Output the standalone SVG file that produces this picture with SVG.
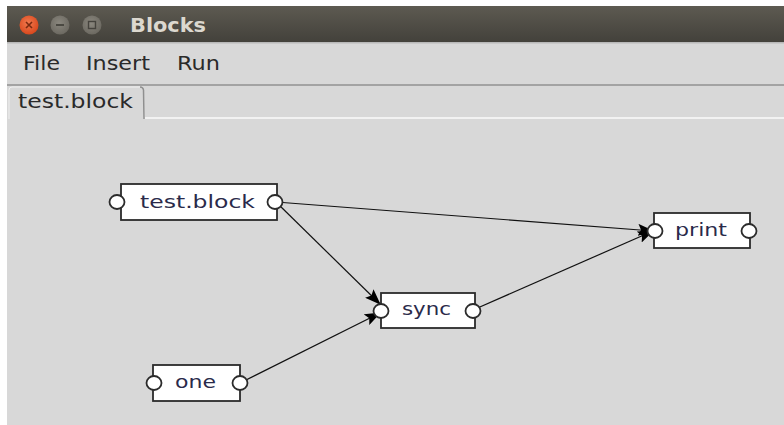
<svg xmlns="http://www.w3.org/2000/svg" width="784" height="425" viewBox="0 0 784 425">
<defs>
<linearGradient id="tb" x1="0" y1="0" x2="0" y2="1">
<stop offset="0" stop-color="#5d5a51"/>
<stop offset="1" stop-color="#43413b"/>
</linearGradient>
<radialGradient id="cl" cx="0.45" cy="0.4" r="0.6">
<stop offset="0" stop-color="#f27a4f"/>
<stop offset="1" stop-color="#d8481d"/>
</radialGradient>
<radialGradient id="gb" cx="0.45" cy="0.4" r="0.6">
<stop offset="0" stop-color="#8a877e"/>
<stop offset="1" stop-color="#6c6961"/>
</radialGradient>
<marker id="ah" markerUnits="userSpaceOnUse" markerWidth="16" markerHeight="12" viewBox="0 0 16 12" refX="15" refY="6" orient="auto">
<path d="M0,0 L16,6 L0,12 L3,6 Z" fill="#000"/>
</marker>
</defs>
<style>
.ui{font-family:"DejaVu Sans","Liberation Sans",sans-serif;fill:#2a2a2a}
.box{fill:#fff;stroke:#2b2b2b;stroke-width:1.8}
.port{fill:#fff;stroke:#2b2b2b;stroke-width:1.8}
.lbl{font-family:"DejaVu Sans","Liberation Sans",sans-serif;font-size:18px;fill:#2a2a4a}
.edge{stroke:#111;stroke-width:1.2;fill:none;marker-end:url(#ah)}
</style>
<rect x="0" y="0" width="784" height="425" fill="#ffffff"/>
<rect x="7" y="6" width="777" height="419" fill="#d8d8d8"/>
<rect x="7" y="6" width="777" height="36" fill="url(#tb)"/>
<rect x="7" y="42" width="777" height="1.5" fill="#b8b8b8"/>
<circle cx="29" cy="25" r="9.5" fill="url(#cl)"/>
<path d="M26,22 L32,28 M32,22 L26,28" stroke="#7a2a10" stroke-width="1.6"/>
<circle cx="60" cy="25" r="9.5" fill="url(#gb)"/>
<path d="M56,25 L64,25" stroke="#45433d" stroke-width="1.8"/>
<circle cx="92" cy="25" r="9.5" fill="url(#gb)"/>
<rect x="88.5" y="21.5" width="7" height="7" fill="none" stroke="#45433d" stroke-width="1.4"/>
<text x="130" y="32" font-family="DejaVu Sans, Liberation Sans, sans-serif" font-size="19" font-weight="bold" fill="#dcd8cf" textLength="76" lengthAdjust="spacingAndGlyphs">Blocks</text>
<text class="ui" x="23" y="70" font-size="19" textLength="37" lengthAdjust="spacingAndGlyphs">File</text>
<text class="ui" x="86" y="70" font-size="19" textLength="64" lengthAdjust="spacingAndGlyphs">Insert</text>
<text class="ui" x="177" y="70" font-size="19" textLength="43" lengthAdjust="spacingAndGlyphs">Run</text>
<rect x="7" y="84" width="777" height="2" fill="#a3a3a3"/>
<rect x="145" y="117" width="639" height="2" fill="#f2f2f2"/>
<path d="M9,119 L9,90 Q9,87 12,87 L140,87 Q143,87 143.5,90 L144,119" fill="#d8d8d8" stroke="#f0f0f0" stroke-width="1"/>
<path d="M140,87 Q143,87 143.5,90 L144,119" fill="none" stroke="#8f8f8f" stroke-width="1.5"/>
<text class="ui" x="18" y="108" font-size="19" textLength="115" lengthAdjust="spacingAndGlyphs">test.block</text>
<g id="connectors">
<line class="edge" x1="276" y1="202" x2="653" y2="231"/>
<line class="edge" x1="276" y1="202" x2="380" y2="304"/>
<line class="edge" x1="240" y1="383" x2="380" y2="313"/>
<line class="edge" x1="473" y1="310" x2="653" y2="231"/>
</g>
<g id="node-testblock">
<rect class="box" x="121" y="184" width="156" height="36"/>
<ellipse class="port" cx="117" cy="202" rx="7.5" ry="7"/>
<ellipse class="port" cx="275" cy="202" rx="7.5" ry="7"/>
<text class="lbl" x="140" y="208" textLength="115" lengthAdjust="spacingAndGlyphs">test.block</text>
</g>
<g id="node-print">
<rect class="box" x="654" y="213" width="96" height="35"/>
<ellipse class="port" cx="655" cy="231" rx="7.5" ry="7"/>
<ellipse class="port" cx="749" cy="231" rx="7.5" ry="7"/>
<text class="lbl" x="675" y="236" textLength="52" lengthAdjust="spacingAndGlyphs">print</text>
</g>
<g id="node-sync">
<rect class="box" x="381" y="293" width="94" height="35"/>
<ellipse class="port" cx="381" cy="311" rx="7.5" ry="7"/>
<ellipse class="port" cx="473" cy="311" rx="7.5" ry="7"/>
<text class="lbl" x="402" y="315" textLength="49" lengthAdjust="spacingAndGlyphs">sync</text>
</g>
<g id="node-one">
<rect class="box" x="153" y="365" width="87" height="36"/>
<ellipse class="port" cx="154" cy="383" rx="7.5" ry="7"/>
<ellipse class="port" cx="240" cy="383" rx="7.5" ry="7"/>
<text class="lbl" x="175" y="388" textLength="41" lengthAdjust="spacingAndGlyphs">one</text>
</g>
</svg>
